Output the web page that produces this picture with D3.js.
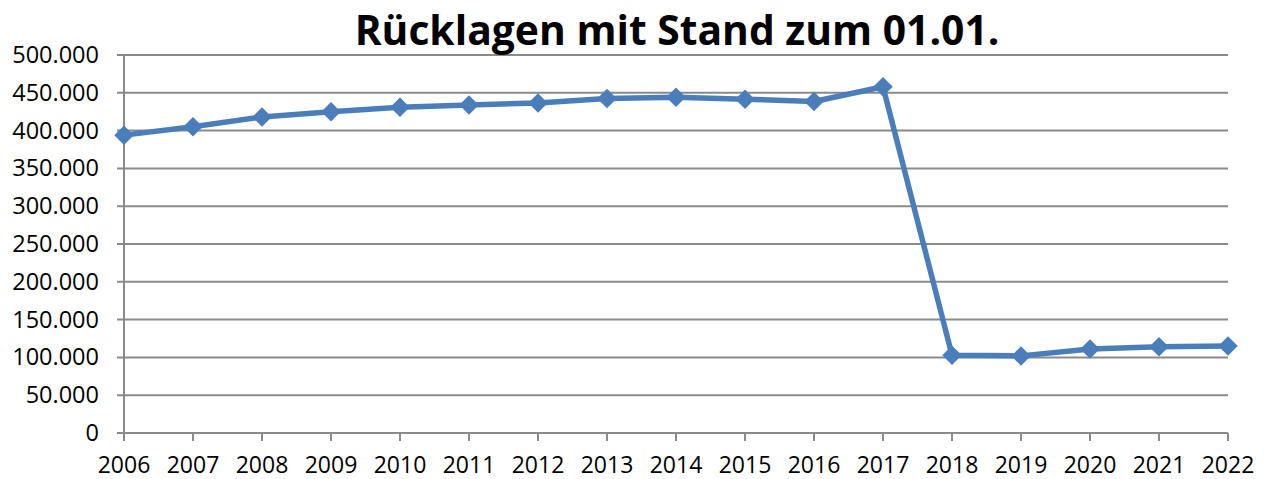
<!DOCTYPE html>
<html>
<head>
<meta charset="utf-8">
<script src="https://cdn.jsdelivr.net/npm/d3@7"></script>
<style>
  body { margin: 0; background: #fff; }
  text { font-family: "Open Sans", sans-serif; fill: #000; }
</style>
</head>
<body>
<svg id="chart" width="1264" height="479"></svg>
<script>
// data (values in EUR)
var years = ["2006", "2007", "2008", "2009", "2010", "2011", "2012", "2013", "2014",
             "2015", "2016", "2017", "2018", "2019", "2020", "2021", "2022"];
var reserves = [394000, 405000, 418000, 425000, 431000, 434000, 436500, 442500, 444000,
                441500, 438500, 458000, 103000, 102000, 111000, 114000, 115000];
var yTicks = [0, 50000, 100000, 150000, 200000, 250000, 300000, 350000, 400000, 450000, 500000];
var title = "Rücklagen mit Stand zum 01.01.";

var svg = d3.select("#chart");
var plotLeft = 124, plotRight = 1228, plotTop = 55, plotBottom = 433;

var x = d3.scalePoint().domain(years).range([plotLeft, plotRight]);
var y = d3.scaleLinear().domain([0, 500000]).range([plotBottom, plotTop]);

var fmt = function(d) {
    return d3.format(",")(d).replace(/,/g, ".");
};

// horizontal gridlines (include the little tick on the left)
svg.append("g")
    .selectAll("line")
    .data(yTicks)
  .enter().append("line")
    .attr("x1", plotLeft - 7)
    .attr("x2", plotRight)
    .attr("y1", function(d) { return y(d); })
    .attr("y2", function(d) { return y(d); })
    .attr("stroke", "#8a8a8a")
    .attr("stroke-width", 2);

// y axis line
svg.append("line")
    .attr("x1", plotLeft).attr("x2", plotLeft)
    .attr("y1", plotTop).attr("y2", plotBottom + 7)
    .attr("stroke", "#8a8a8a")
    .attr("stroke-width", 2);

// x ticks
svg.append("g")
    .selectAll("line")
    .data(years)
  .enter().append("line")
    .attr("x1", function(d) { return x(d); })
    .attr("x2", function(d) { return x(d); })
    .attr("y1", plotBottom)
    .attr("y2", plotBottom + 8)
    .attr("stroke", "#8a8a8a")
    .attr("stroke-width", 2);

// y labels
svg.append("g")
    .selectAll("text")
    .data(yTicks)
  .enter().append("text")
    .attr("x", 99)
    .attr("y", function(d) { return y(d) + 8; })
    .attr("text-anchor", "end")
    .style("font-size", "23.5px")
    .text(fmt);

// x labels
svg.append("g")
    .selectAll("text")
    .data(years)
  .enter().append("text")
    .attr("x", function(d) { return x(d); })
    .attr("y", 473)
    .attr("text-anchor", "middle")
    .style("font-size", "23px")
    .text(function(d) { return d; });

// the line
var line = d3.line()
    .x(function(d, i) { return x(years[i]); })
    .y(function(d) { return y(d); });

svg.append("path")
    .datum(reserves)
    .attr("d", line)
    .attr("fill", "none")
    .attr("stroke", "#4a7ebb")
    .attr("stroke-width", 5.5)
    .attr("stroke-linejoin", "round");

// diamond markers
svg.append("g")
    .selectAll("path")
    .data(reserves)
  .enter().append("path")
    .attr("d", d3.symbol().type(d3.symbolSquare).size(190))
    .attr("transform", function(d, i) {
        return "translate(" + x(years[i]) + "," + y(d) + ") rotate(45)";
    })
    .attr("fill", "#4a7ebb");

// title, scaled to the reference width
var t = svg.append("text")
    .attr("x", 677)
    .attr("y", 45)
    .attr("text-anchor", "middle")
    .style("font-size", "40px")
    .style("font-weight", "bold")
    .text(title);
var w = t.node().getComputedTextLength();
t.style("font-size", (40 * 645 / w) + "px");
</script>
</body>
</html>
